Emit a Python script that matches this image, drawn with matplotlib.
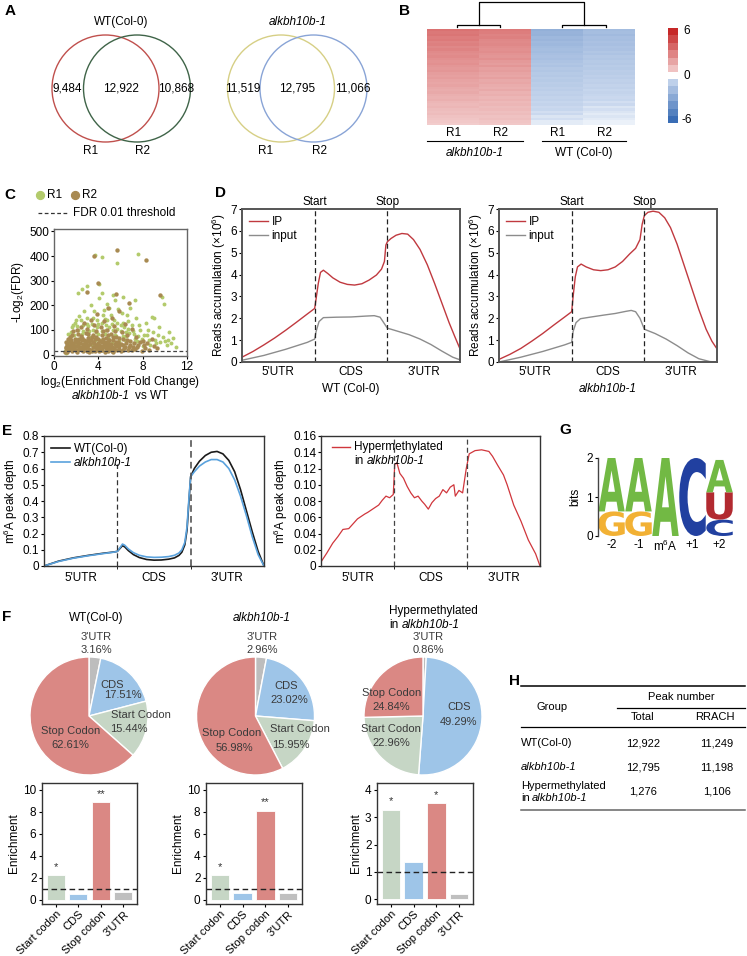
import numpy as np
import matplotlib
matplotlib.use("Agg")
import matplotlib.pyplot as plt
from matplotlib.patches import Circle, Rectangle, PathPatch
from matplotlib.textpath import TextPath
from matplotlib.font_manager import FontProperties
from matplotlib.colors import LinearSegmentedColormap
import matplotlib.transforms as mtransforms

plt.rcParams['font.family'] = ['Liberation Sans', 'DejaVu Sans']
plt.rcParams['mathtext.fontset'] = 'custom'
plt.rcParams['mathtext.rm'] = 'Liberation Sans'
plt.rcParams['mathtext.it'] = 'Liberation Sans:italic'
plt.rcParams['font.size'] = 8
plt.rcParams['axes.linewidth'] = 1.0

# ---------------- data ----------------
venn_wt = [9484, 12922, 10868]
venn_mut = [11519, 12795, 11066]

heat_mut_r1 = [3.6, 3.4, 3.5, 3.2, 3.3, 3.0, 3.1, 2.9, 3.0, 2.8, 2.7, 2.8, 2.6, 2.5, 2.6, 2.4, 2.3, 2.4, 2.2, 2.1,
               2.2, 2.0, 1.9, 2.0, 1.8, 1.7, 1.8, 1.6, 1.5, 1.6, 1.4, 1.3, 1.4, 1.2, 1.1, 1.2, 1.0, 0.9, 0.8, 0.7]
heat_mut_r2 = [3.3, 3.2, 3.0, 3.1, 2.9, 2.8, 2.9, 2.7, 2.6, 2.7, 2.5, 2.4, 2.6, 2.3, 2.2, 2.4, 2.1, 2.2, 2.0, 1.9,
               2.1, 1.8, 1.9, 1.7, 1.6, 1.8, 1.5, 1.6, 1.4, 1.5, 1.3, 1.4, 1.2, 1.3, 1.1, 1.2, 1.0, 1.1, 0.9, 0.8]
heat_wt_r1 = [-2.6, -2.4, -2.5, -2.2, -2.3, -2.1, -2.2, -2.0, -1.9, -2.0, -1.8, -1.7, -1.8, -1.6, -1.5, -1.6, -1.4,
              -1.5, -1.3, -1.4, -1.2, -1.3, -1.1, -1.2, -1.0, -1.1, -0.9, -1.0, -0.8, -0.9, -0.7, -0.8, -0.6, -0.7,
              -0.5, -0.6, -0.4, -0.5, -0.3, -0.3]
heat_wt_r2 = [-2.0, -1.9, -2.1, -1.8, -1.9, -1.7, -1.8, -1.6, -1.7, -1.5, -1.6, -1.4, -1.5, -1.3, -1.4, -1.2, -1.3,
              -1.1, -1.2, -1.0, -1.1, -0.9, -1.0, -0.8, -0.9, -0.7, -0.8, -0.7, -0.6, -0.7, -0.5, -0.6, -0.4, -0.5,
              -0.4, -0.3, -0.4, -0.3, -0.2, -0.2]

scatter_r1 = [(1.0, 16), (1.2, 32), (1.4, 60), (1.6, 22), (1.8, 80), (2.0, 45), (2.2, 100), (2.4, 30), (2.6, 120),
              (2.8, 55), (3.0, 150), (3.2, 70), (3.4, 38), (3.6, 175), (3.8, 90), (4.0, 125), (4.2, 58), (4.4, 160),
              (4.6, 85), (4.8, 205), (5.0, 110), (5.2, 48), (5.4, 140), (5.6, 75), (5.8, 185), (6.0, 95), (6.2, 130),
              (6.4, 60), (6.6, 160), (6.8, 88), (7.0, 120), (7.2, 45), (7.4, 150), (7.6, 75), (7.8, 100), (8.0, 35),
              (8.3, 130), (8.6, 60), (8.9, 90), (9.2, 45), (9.5, 110), (9.8, 70), (10.2, 40), (10.7, 67), (11.0, 30),
              (1.1, 8), (1.3, 45), (1.5, 90), (1.9, 130), (2.1, 65), (2.3, 155), (2.5, 85), (2.7, 175), (2.9, 40),
              (3.1, 115), (3.3, 200), (3.5, 100), (3.7, 60), (3.9, 140), (4.1, 230), (4.3, 95), (4.5, 180),
              (4.7, 120), (4.9, 70), (5.1, 160), (5.3, 100), (5.5, 220), (5.7, 130), (5.9, 55), (6.1, 170),
              (6.3, 110), (6.5, 75), (6.7, 135), (6.9, 190), (7.1, 95), (7.3, 65), (7.7, 120), (8.1, 80), (8.5, 100),
              (9.0, 150), (9.4, 80), (9.9, 205), (9.7, 235), (10.0, 55), (10.4, 90), (2.5, 265), (2.2, 250),
              (4.3, 250), (5.3, 240), (6.2, 232), (7.3, 220), (8.8, 153), (3.7, 403), (4.3, 396), (5.7, 373),
              (7.6, 409), (3.0, 280), (4.1, 287), (1.6, 110), (2.0, 140), (3.4, 125), (4.6, 145), (5.0, 190),
              (1.3, 85), (1.7, 120), (2.1, 115), (2.6, 95), (3.0, 125), (3.5, 150), (3.9, 110), (4.3, 130),
              (4.7, 100), (5.2, 125), (5.7, 105), (6.2, 75), (6.7, 105), (7.2, 85), (7.9, 65), (8.4, 80), (9.1, 60),
              (9.6, 50), (10.3, 60), (10.6, 45), (1.5, 75), (2.4, 140), (3.2, 95), (4.0, 85), (4.8, 140), (5.5, 80),
              (6.0, 120), (6.5, 90), (7.5, 55), (8.7, 40)]
scatter_r2 = [(1.0, 12), (1.1, 25), (1.2, 40), (1.3, 18), (1.4, 55), (1.5, 30), (1.6, 14), (1.7, 45), (1.8, 22),
              (1.9, 65), (2.0, 35), (2.1, 12), (2.2, 50), (2.3, 28), (2.4, 75), (2.5, 18), (2.6, 42), (2.7, 60),
              (2.8, 25), (2.9, 88), (3.0, 14), (3.1, 38), (3.2, 55), (3.3, 20), (3.4, 70), (3.5, 32), (3.6, 48),
              (3.7, 15), (3.8, 95), (3.9, 27), (4.0, 62), (4.1, 40), (4.2, 18), (4.3, 80), (4.4, 30), (4.5, 52),
              (4.6, 12), (4.7, 68), (4.8, 24), (4.9, 45), (5.0, 35), (5.1, 85), (5.2, 16), (5.3, 58), (5.4, 28),
              (5.5, 42), (5.6, 72), (5.7, 20), (5.8, 50), (5.9, 33), (6.0, 14), (6.2, 62), (6.3, 26), (6.5, 45),
              (6.7, 18), (6.9, 55), (7.1, 30), (7.3, 22), (7.6, 40), (7.9, 15), (8.2, 28), (8.6, 20), (9.0, 35),
              (1.2, 10), (1.5, 48), (1.8, 35), (2.0, 20), (2.3, 62), (2.6, 28), (2.9, 46), (3.2, 12), (3.5, 78),
              (3.8, 38), (4.1, 25), (4.4, 95), (4.7, 38), (5.0, 60), (5.3, 12), (5.6, 36), (5.9, 68), (1.4, 70),
              (2.2, 85), (3.0, 105), (3.6, 120), (4.2, 110), (4.8, 100), (5.4, 115), (6.1, 90), (6.6, 80),
              (2.7, 130), (3.3, 140), (4.5, 135), (5.2, 150), (6.4, 125), (7.0, 105), (3.9, 165), (2.4, 110),
              (1.7, 95), (5.9, 175), (4.9, 190), (7.4, 70), (8.0, 55), (8.8, 65), (3.0, 255), (4.0, 290),
              (5.6, 245), (6.8, 210), (9.6, 240), (3.6, 400), (5.7, 425), (8.3, 385), (1.1, 52), (1.6, 78),
              (2.1, 100), (2.5, 58), (3.1, 85), (3.7, 62), (4.3, 50), (4.9, 78), (5.5, 95), (6.2, 40), (6.8, 30),
              (1.05, 30), (1.15, 48), (1.25, 62), (1.35, 35), (1.45, 22), (1.55, 58), (1.65, 38), (1.75, 28),
              (1.85, 50), (1.95, 18), (2.05, 58), (2.15, 38), (2.25, 22), (2.35, 45), (2.45, 32), (2.55, 66),
              (2.65, 15), (2.75, 40), (2.85, 55), (2.95, 30), (3.05, 68), (3.15, 24), (3.25, 42), (3.35, 60),
              (3.45, 16), (3.55, 52), (3.65, 30), (3.75, 72), (3.85, 22), (3.95, 48), (4.05, 14), (4.15, 56),
              (4.25, 34), (4.35, 20), (4.45, 64), (4.55, 40), (4.65, 26), (4.75, 50), (4.85, 16), (4.95, 60),
              (5.05, 22), (5.15, 44), (5.25, 30), (5.35, 70), (5.45, 18), (5.6, 52), (5.75, 38), (5.9, 24),
              (6.05, 42), (6.25, 20), (6.45, 32), (6.6, 60), (6.85, 40), (7.0, 20), (7.2, 48), (7.5, 30), (7.8, 50),
              (8.1, 40), (8.4, 45), (9.3, 25)]
fdr_cutoff = 15

# metagene, D panel (x: 0-1 5'UTR, 1-2 CDS, 2-3 3'UTR), values x10^6
d_wt_ip_x = [0.0, 0.15, 0.3, 0.45, 0.6, 0.75, 0.9, 1.0, 1.02, 1.05, 1.08, 1.12, 1.18, 1.25, 1.35, 1.45, 1.55, 1.65,
             1.75, 1.85, 1.92, 1.96, 1.98, 2.0, 2.05, 2.12, 2.2, 2.28, 2.36, 2.45, 2.55, 2.65, 2.75, 2.85, 2.93, 3.0]
d_wt_ip_y = [0.22, 0.48, 0.78, 1.1, 1.45, 1.82, 2.2, 2.45, 2.9, 3.6, 4.1, 4.2, 4.05, 3.85, 3.65, 3.55, 3.52, 3.58,
             3.75, 3.98, 4.25, 4.6, 5.35, 5.5, 5.65, 5.8, 5.88, 5.85, 5.6, 5.15, 4.45, 3.6, 2.7, 1.8, 1.15, 0.6]
d_wt_in_x = [0.0, 0.3, 0.6, 0.9, 1.0, 1.02, 1.06, 1.12, 1.3, 1.5, 1.7, 1.82, 1.9, 1.95, 2.0, 2.15, 2.3, 2.45, 2.6,
             2.75, 2.9, 3.0]
d_wt_in_y = [0.08, 0.3, 0.58, 0.9, 1.05, 1.4, 1.85, 2.03, 2.05, 2.06, 2.1, 2.12, 2.05, 1.8, 1.55, 1.4, 1.25, 1.05,
             0.8, 0.5, 0.22, 0.1]
d_mut_ip_x = [0.0, 0.15, 0.3, 0.45, 0.6, 0.75, 0.9, 1.0, 1.02, 1.05, 1.08, 1.13, 1.2, 1.3, 1.4, 1.5, 1.6, 1.7, 1.8,
              1.88, 1.94, 1.97, 2.0, 2.05, 2.12, 2.2, 2.28, 2.36, 2.45, 2.55, 2.65, 2.75, 2.85, 2.93, 3.0]
d_mut_ip_y = [0.12, 0.35, 0.62, 0.95, 1.3, 1.68, 2.05, 2.3, 3.0, 3.9, 4.35, 4.48, 4.35, 4.22, 4.18, 4.22, 4.35, 4.6,
              4.95, 5.2, 5.6, 6.3, 6.7, 6.85, 6.9, 6.85, 6.6, 6.15, 5.4, 4.4, 3.4, 2.4, 1.5, 0.95, 0.6]
d_mut_in_x = [0.0, 0.3, 0.6, 0.9, 1.0, 1.02, 1.06, 1.12, 1.25, 1.45, 1.6, 1.75, 1.82, 1.88, 1.94, 2.0, 2.15, 2.3,
              2.45, 2.6, 2.75, 2.9, 3.0]
d_mut_in_y = [0.0, 0.22, 0.48, 0.78, 0.9, 1.4, 1.8, 1.98, 2.05, 2.15, 2.22, 2.32, 2.36, 2.3, 2.0, 1.5, 1.3, 1.05,
              0.75, 0.42, 0.15, 0.02, 0.0]

# E panel m6A peak depth
e_x = [0.0, 0.2, 0.4, 0.6, 0.8, 0.95, 1.0, 1.04, 1.07, 1.1, 1.15, 1.22, 1.3, 1.4, 1.5, 1.6, 1.7, 1.78, 1.84, 1.88,
       1.92, 1.95, 1.98, 2.0, 2.05, 2.12, 2.2, 2.28, 2.36, 2.44, 2.52, 2.6, 2.68, 2.76, 2.84, 2.92, 3.0]
e_wt = [0.0, 0.03, 0.05, 0.065, 0.078, 0.086, 0.09, 0.11, 0.125, 0.118, 0.095, 0.07, 0.052, 0.04, 0.036, 0.037,
        0.042, 0.05, 0.065, 0.085, 0.13, 0.22, 0.42, 0.55, 0.6, 0.645, 0.68, 0.7, 0.705, 0.69, 0.65, 0.58, 0.47,
        0.34, 0.21, 0.09, 0.0]
e_mut = [0.0, 0.028, 0.048, 0.063, 0.076, 0.085, 0.09, 0.115, 0.135, 0.128, 0.105, 0.082, 0.066, 0.056, 0.053,
         0.054, 0.058, 0.066, 0.08, 0.1, 0.145, 0.24, 0.44, 0.55, 0.58, 0.615, 0.64, 0.655, 0.655, 0.64, 0.6, 0.53,
         0.43, 0.31, 0.18, 0.07, 0.0]
e_hyper_x = [0.0, 0.08, 0.16, 0.23, 0.3, 0.38, 0.45, 0.5, 0.55, 0.6, 0.64, 0.69, 0.74, 0.79, 0.84, 0.89, 0.94, 0.99,
             1.01, 1.04, 1.08, 1.13, 1.18, 1.23, 1.28, 1.33, 1.38, 1.42, 1.47, 1.52, 1.57, 1.62, 1.67, 1.72, 1.77,
             1.82, 1.84, 1.89, 1.94, 1.99, 2.03, 2.11, 2.2, 2.3, 2.35, 2.42, 2.5, 2.55, 2.64, 2.74, 2.84, 2.94, 3.0]
e_hyper_y = [0.005, 0.016, 0.028, 0.036, 0.045, 0.046, 0.053, 0.058, 0.061, 0.064, 0.066, 0.069, 0.072, 0.075,
             0.081, 0.086, 0.084, 0.088, 0.125, 0.127, 0.114, 0.108, 0.098, 0.09, 0.084, 0.086, 0.08, 0.076, 0.07,
             0.078, 0.083, 0.086, 0.094, 0.09, 0.097, 0.1, 0.086, 0.093, 0.09, 0.12, 0.138, 0.142, 0.143, 0.141,
             0.135, 0.124, 0.112, 0.1, 0.075, 0.055, 0.032, 0.015, 0.0]

# F panel
pie_regions = ["3'UTR", "CDS", "Start Codon", "Stop Codon"]
pie_wt = [3.16, 17.51, 15.44, 62.61]
pie_mut = [2.96, 23.02, 15.95, 56.98]
pie_hyper = [0.86, 49.29, 22.96, 24.84]
bar_groups = ["Start codon", "CDS", "Stop codon", "3'UTR"]
enrich_wt = [2.2, 0.5, 8.9, 0.65]
enrich_mut = [2.25, 0.6, 8.1, 0.6]
enrich_hyper = [3.28, 1.35, 3.52, 0.2]
stars_wt = ["*", "", "**", ""]
stars_mut = ["*", "", "**", ""]
stars_hyper = ["*", "", "*", ""]

# G panel motif (bits per letter, bottom to top)
logo_pos = ["-2", "-1", "m$^6$A", "+1", "+2"]
logo_stack = [[("G", 0.63), ("A", 1.37)], [("G", 0.63), ("A", 1.37)], [("A", 2.0)], [("C", 2.0)],
              [("C", 0.42), ("U", 0.7), ("A", 0.83)]]

# H panel
table_total = [12922, 12795, 1276]
table_rrach = [11249, 11198, 1106]

# ---------------- layout helpers ----------------
W, H = 747, 956
fig = plt.figure(figsize=(W / 100, H / 100), dpi=100)
canvas = fig.add_axes([0, 0, 1, 1])
canvas.set_xlim(0, W)
canvas.set_ylim(H, 0)
canvas.axis('off')
canvas.set_zorder(10)
canvas.patch.set_visible(False)
renderer = fig.canvas.get_renderer()


def px_axes(x0, y0, x1, y1):
    return fig.add_axes([x0 / W, 1 - y1 / H, (x1 - x0) / W, (y1 - y0) / H])


def txt(x, y, s, **kw):
    kw.setdefault('ha', 'center')
    kw.setdefault('va', 'center')
    return canvas.text(x, y, s, **kw)


def mixed(x, y, parts, ha='center', fontsize=8.5):
    # parts: (string, fontstyle, gap after in px)
    items = []
    for s, st, gap in parts:
        t = canvas.text(0, y, s, fontstyle=st, fontsize=fontsize, ha='left', va='center')
        items.append((t, t.get_window_extent(renderer=renderer).width + gap))
    total = sum(w for _, w in items)
    pos = x - total / 2 if ha == 'center' else x
    for t, w in items:
        t.set_x(pos)
        pos += w


def panel(x, y, s):
    txt(x, y, s, fontsize=11, fontweight='bold')


def line(xs, ys, **kw):
    kw.setdefault('color', 'black')
    kw.setdefault('lw', 0.9)
    canvas.plot(xs, ys, **kw)


# ---------------- A: Venn ----------------
panel(10, 11, "A")
for title, counts, cols, c1, c2, ital in [("WT(Col-0)", venn_wt, ('#C0504D', '#3F6448'), 105.5, 137, 'normal'),
                                          ("alkbh10b-1", venn_mut, ('#D6CF85', '#89A4D6'), 281, 313.5, 'italic')]:
    txt((c1 + c2) / 2, 22, title, fontsize=8.5, fontstyle=ital)
    for cx, col in zip((c1, c2), cols):
        canvas.add_patch(Circle((cx, 88.5), 53.5, fill=False, ec=col, lw=1))
    for xx, v in zip((c1 - 38, (c1 + c2) / 2, c2 + 39), counts):
        txt(xx, 88, f"{v:,}", fontsize=8.5)
    txt(c1 - 15, 151, "R1", fontsize=8.5)
    txt(c2 + 6, 151, "R2", fontsize=8.5)

# ---------------- B: heatmap ----------------
panel(405, 11, "B")
cmap = LinearSegmentedColormap.from_list('rb', [(0, '#3A6DB5'), (0.45, '#C9D8EE'), (0.5, '#FFFFFF'),
                                                (0.55, '#F3CFCF'), (1, '#C62828')])
axb = px_axes(427, 29, 635, 125)
heat = np.column_stack([heat_mut_r1, heat_mut_r2, heat_wt_r1, heat_wt_r2])
axb.imshow(heat, aspect='auto', cmap=cmap, vmin=-6, vmax=6, interpolation='nearest')
axb.axis('off')
line([479, 479, 584, 584], [25, 2, 2, 25])
line([457, 457, 500, 500], [27, 25, 25, 27])
line([562, 562, 606, 606], [27, 25, 25, 27])
for xx, lab in zip([454, 500, 558, 604], ["R1", "R2", "R1", "R2"]):
    txt(xx, 133, lab, fontsize=8.5)
line([427, 523], [141, 141], lw=0.8)
line([542, 626], [141, 141], lw=0.8)
txt(475, 153, "alkbh10b-1", fontsize=8.5, fontstyle='italic')
txt(584, 153, "WT (Col-0)", fontsize=8.5)
for i, v in enumerate([6, 5, 4, 3, 2, 1]):
    canvas.add_patch(Rectangle((668, 28 + i * 7.4), 10, 7.4, fc=cmap((v + 6) / 12), ec='none'))
for i, v in enumerate([-1, -2, -3, -4, -5, -6]):
    canvas.add_patch(Rectangle((668, 79 + i * 7.4), 10, 7.4, fc=cmap((v + 6) / 12), ec='none'))
txt(683, 31, "6", ha='left', fontsize=8.5)
txt(683, 76, "0", ha='left', fontsize=8.5)
txt(681, 120, "-6", ha='left', fontsize=8.5)

# ---------------- C: scatter ----------------
panel(10, 195, "C")
col_r1, col_r2 = '#B3CB6C', '#A88A52'
canvas.scatter([40], [195], s=32, color=col_r1)
txt(47, 195, "R1", ha='left', fontsize=8.5)
canvas.scatter([75], [195], s=32, color=col_r2)
txt(82, 195, "R2", ha='left', fontsize=8.5)
line([38, 68], [213, 213], ls=(0, (3, 2)), color='#333333')
txt(73, 213, "FDR 0.01 threshold", ha='left', fontsize=8.5)
axc = px_axes(54, 229, 187, 356)
axc.scatter([p[0] for p in scatter_r1], [p[1] for p in scatter_r1], s=8, color=col_r1, lw=0)
axc.scatter([p[0] for p in scatter_r2], [p[1] for p in scatter_r2], s=10, color=col_r2, lw=0)
axc.axhline(fdr_cutoff, color='#444444', ls=(0, (3, 2)), lw=0.9)
axc.set_xlim(0, 12)
axc.set_ylim(-6, 510)
axc.set_xticks([0, 4, 8, 12])
axc.set_yticks([0, 100, 200, 300, 400, 500])
axc.tick_params(labelsize=8.5, length=2.5, pad=1)
for s in axc.spines.values():
    s.set_color('#666666')
axc.set_ylabel("-Log$_2$(FDR)", fontsize=8.5, labelpad=2)
txt(120, 382, "log$_2$(Enrichment Fold Change)", fontsize=8.5)
mixed(120, 396, [("alkbh10b-1", 'italic', 5), ("vs WT", 'normal', 0)])

# ---------------- D: metagene ----------------
panel(220, 193, "D")
for (x0, x1), ipx, ipy, inx, iny, sub, st in [
        ((242, 460), d_wt_ip_x, d_wt_ip_y, d_wt_in_x, d_wt_in_y, "WT (Col-0)", 'normal'),
        ((499, 717), d_mut_ip_x, d_mut_ip_y, d_mut_in_x, d_mut_in_y, "alkbh10b-1", 'italic')]:
    ax = px_axes(x0, 209, x1, 362)
    ax.plot(ipx, ipy, color='#C0393F', lw=1, label="IP")
    ax.plot(inx, iny, color='#8C8C8C', lw=1, label="input")
    for xv in (1, 2):
        ax.axvline(xv, color='#222222', ls=(0, (4, 2.5)), lw=0.9)
    ax.set_xlim(0, 3)
    ax.set_ylim(0, 7)
    ax.set_yticks(range(8))
    ax.set_xticks([0.5, 1.5, 2.5])
    ax.set_xticklabels(["5'UTR", "CDS", "3'UTR"])
    ax.tick_params(axis='x', length=0, pad=3, labelsize=8.5)
    ax.tick_params(axis='y', length=2.5, pad=1, labelsize=8.5)
    for s in ax.spines.values():
        s.set_color('#555555')
        s.set_linewidth(1.4)
    ax.set_ylabel("Reads accumulation (\u00d710$^6$)", fontsize=8.5, labelpad=2)
    ax.legend(loc='upper left', frameon=False, fontsize=8.5, handlelength=1.6, handletextpad=0.3,
              borderaxespad=0.2, labelspacing=0.15)
    txt(x0 + (x1 - x0) / 3, 202, "Start", fontsize=8.5)
    txt(x0 + 2 * (x1 - x0) / 3, 202, "Stop", fontsize=8.5)
    txt((x0 + x1) / 2, 389, sub, fontsize=8.5, fontstyle=st)

# ---------------- E: m6A peak depth ----------------
panel(7, 431, "E")


def meta_axes(x0, x1):
    ax = px_axes(x0, 436, x1, 566)
    ax.set_xlim(0, 3)
    ax.set_xticks([0.5, 1.5, 2.5])
    ax.set_xticklabels(["5'UTR", "CDS", "3'UTR"])
    ax.set_xticks([1, 2], minor=True)
    ax.tick_params(axis='x', which='major', length=0, pad=4, labelsize=8.5)
    ax.tick_params(axis='x', which='minor', length=2.5)
    ax.tick_params(axis='y', length=2.5, pad=1, labelsize=8.5)
    for s in ax.spines.values():
        s.set_color('#333333')
    ax.set_ylabel("m$^6$A peak depth", fontsize=8.5, labelpad=2)
    return ax


ax = meta_axes(44, 264)
ax.plot(e_x, e_wt, color='#1A1A1A', lw=1.2, label="WT(Col-0)")
ax.plot(e_x, e_mut, color='#5AA2DD', lw=1.2, label="alkbh10b-1")
ax.vlines(1, 0, 0.63, color='#333333', ls=(0, (4, 2.5)), lw=0.9)
ax.vlines(2, 0, 0.8, color='#555555', ls=(0, (4, 2.5)), lw=1.2)
ax.set_ylim(0, 0.8)
ax.set_yticks(np.arange(0, 0.81, 0.1))
ax.set_yticklabels(["0"] + [f"{v:.1f}" for v in np.arange(0.1, 0.81, 0.1)])
leg = ax.legend(loc='upper left', frameon=False, fontsize=8.5, handlelength=1.6, handletextpad=0.3,
                borderaxespad=0.2, labelspacing=0.15)
leg.get_texts()[1].set_fontstyle('italic')

ax = meta_axes(321, 540)
ax.plot(e_hyper_x, e_hyper_y, color='#D0363C', lw=0.9)
ax.vlines([1, 2], 0, 0.16, color='#444444', ls=(0, (4, 2.5)), lw=0.9)
ax.set_ylim(0, 0.16)
ax.set_yticks(np.arange(0, 0.161, 0.02))
ax.set_yticklabels(["0"] + [f"{v:.2f}" for v in np.arange(0.02, 0.161, 0.02)])
line([332, 350], [447, 447], color='#D0363C', lw=1)
txt(354, 447, "Hypermethylated", ha='left', fontsize=8.5)
mixed(354, 461, [("in", 'normal', 3), ("alkbh10b-1", 'italic', 0)], ha='left')

# ---------------- G: motif logo ----------------
panel(565, 430, "G")
logo_colors = {"A": '#72B944', "G": '#F2B134', "C": '#2140A0', "U": '#B22A30'}
fp_logo = FontProperties(family='DejaVu Sans', weight='bold')
axg = px_axes(598, 458, 733, 536)
axg.set_xlim(0.5, 5.5)
axg.set_ylim(0, 2)
for i, stack in enumerate(logo_stack):
    base = 0
    for ch, h in stack:
        tp = TextPath((0, 0), ch, size=1, prop=fp_logo)
        bb = tp.get_extents()
        tr = mtransforms.Affine2D().translate(-bb.x0, -bb.y0).scale(0.98 / bb.width, h / bb.height) \
            .translate(i + 1 - 0.49, base)
        axg.add_patch(PathPatch(tr.transform_path(tp), fc=logo_colors[ch], ec='none'))
        base += h
for k in ('top', 'right', 'bottom'):
    axg.spines[k].set_visible(False)
axg.spines['left'].set_bounds(0, 2)
axg.spines['left'].set_color('#444444')
axg.set_yticks([0, 1, 2])
axg.set_xticks(range(1, 6))
axg.set_xticklabels(logo_pos)
axg.tick_params(axis='x', length=0, pad=2, labelsize=8.5)
axg.tick_params(axis='y', length=2.5, pad=1, labelsize=8.5)
axg.set_ylabel("bits", fontsize=8.5, labelpad=4)

# ---------------- F: pies + enrichment bars ----------------
panel(7, 617, "F")
pie_colors = ['#BDBDBD', '#9EC5E8', '#C6D6C5', '#DA8884']
pie_specs = [
    (89, pie_wt, [(0.12, 1.34, 0.12, 1.12), (0.40, 0.53, 0.58, 0.36), (0.88, 0.02, 0.68, -0.22),
                  (-0.31, -0.25, -0.32, -0.49)]),
    (255.5, pie_mut, [(0.12, 1.34, 0.12, 1.12), (0.52, 0.51, 0.57, 0.27), (0.75, -0.22, 0.6, -0.49),
                      (-0.40, -0.29, -0.36, -0.54)]),
    (423, pie_hyper, [(0.09, 1.34, 0.09, 1.12), (0.61, 0.15, 0.61, -0.10), (-0.54, -0.22, -0.54, -0.46),
                      (-0.54, 0.39, -0.54, 0.15)]),
]
R = 59
for cx, vals, pos in pie_specs:
    axp = px_axes(cx - R, 716 - R, cx + R, 716 + R)
    axp.pie(vals, colors=pie_colors, startangle=90, counterclock=False,
            wedgeprops=dict(edgecolor='white', linewidth=1))
    axp.set_xlim(-1, 1)
    axp.set_ylim(-1, 1)
    axp.axis('off')
    for name, v, (nx, ny, px, py) in zip(pie_regions, vals, pos):
        axp.text(nx, ny, name, ha='center', va='center', fontsize=8, color='#3A3A3A', clip_on=False)
        axp.text(px, py, f"{v:.2f}%", ha='center', va='center', fontsize=8, color='#3A3A3A', clip_on=False)
txt(96, 618, "WT(Col-0)", fontsize=8.5)
txt(262, 618, "alkbh10b-1", fontsize=8.5, fontstyle='italic')
txt(389, 611, "Hypermethylated", fontsize=8.5, ha='left')
mixed(389, 625, [("in", 'normal', 3), ("alkbh10b-1", 'italic', 0)], ha='left')

bar_colors = ['#C6D6C5', '#9EC5E8', '#DA8884', '#BFBFBF']
for (x0, x1), vals, stars, ylim, ticks in [((42, 137), enrich_wt, stars_wt, (-0.4, 10.6), range(0, 11, 2)),
                                           ((206, 302), enrich_mut, stars_mut, (-0.4, 10.6), range(0, 11, 2)),
                                           ((377, 473), enrich_hyper, stars_hyper, (-0.17, 4.25), range(0, 5))]:
    ax = px_axes(x0, 783, x1, 904)
    xs = np.arange(1, 5)
    ax.bar(xs, vals, width=0.8, color=bar_colors, edgecolor='white', linewidth=0.6)
    ax.axhline(1, color='#222222', ls=(0, (4, 2.5)), lw=1)
    off = (ylim[1] - ylim[0]) * 0.025
    for xv, v, st in zip(xs, vals, stars):
        if st:
            ax.text(xv, v + off, st, ha='center', va='bottom', fontsize=8, color='#333333')
    ax.set_xlim(0.4, 4.6)
    ax.set_ylim(*ylim)
    ax.set_yticks(list(ticks))
    ax.set_xticks(xs)
    ax.set_xticklabels(bar_groups, rotation=45, ha='right', rotation_mode='anchor', fontsize=8)
    ax.tick_params(axis='y', labelsize=8.5, length=2.5, pad=1.5)
    ax.tick_params(axis='x', length=2.5, pad=1)
    for s in ax.spines.values():
        s.set_color('#333333')
    ax.set_ylabel("Enrichment", fontsize=8.5, labelpad=2)

# ---------------- H: table ----------------
panel(514, 681, "H")
line([521, 745], [686, 686], lw=1.1)
txt(681, 697, "Peak number", fontsize=8)
line([617, 745], [708, 708], lw=0.9)
txt(552, 707, "Group", fontsize=8)
txt(643, 717, "Total", fontsize=8)
txt(715, 717, "RRACH", fontsize=8)
line([521, 745], [727, 727], lw=0.9)
txt(521, 743, "WT(Col-0)", ha='left', fontsize=8)
txt(521, 767, "alkbh10b-1", ha='left', fontsize=8, fontstyle='italic')
txt(521, 786, "Hypermethylated", ha='left', fontsize=8)
mixed(521, 798, [("in", 'normal', 2.5), ("alkbh10b-1", 'italic', 0)], ha='left', fontsize=8)
for yy, t, r in zip([743, 767, 792], table_total, table_rrach):
    txt(643, yy, f"{t:,}", fontsize=8)
    txt(717, yy, f"{r:,}", fontsize=8)
line([521, 745], [810, 810], lw=1.1, color='#666666')

fig.savefig("out.png", dpi=100)
